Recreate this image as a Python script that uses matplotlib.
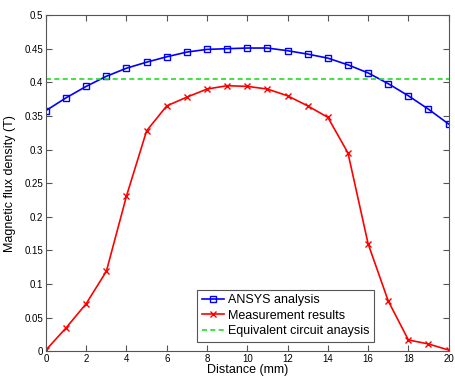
import matplotlib
matplotlib.use("Agg")
import matplotlib.pyplot as plt
import numpy as np

plt.rcParams['font.family'] = ['Liberation Sans', 'DejaVu Sans']

# data
distance = np.arange(0, 21)
ansys = [0.358, 0.377, 0.394, 0.409, 0.421, 0.430, 0.438, 0.445, 0.449, 0.450,
         0.451, 0.451, 0.447, 0.442, 0.436, 0.426, 0.414, 0.398, 0.380, 0.360, 0.338]
measured = [0.002, 0.035, 0.071, 0.119, 0.231, 0.328, 0.365, 0.378, 0.390, 0.395,
            0.394, 0.390, 0.380, 0.365, 0.348, 0.295, 0.160, 0.075, 0.017, 0.011, 0.002]
equivalent = 0.405

xticks = np.arange(0, 21, 2)
yticks = np.arange(0, 0.51, 0.05)
ytick_labels = ["0", "0.05", "0.1", "0.15", "0.2", "0.25", "0.3", "0.35", "0.4", "0.45", "0.5"]

fig = plt.figure(figsize=(4.55, 3.77), dpi=100)
ax = fig.add_axes([0.101, 0.068, 0.885, 0.892])

ax.plot(distance, ansys, color="blue", marker="s", markersize=5, markerfacecolor="none",
        markeredgewidth=1.0, linewidth=1.2, label="ANSYS analysis")
ax.plot(distance, measured, color="red", marker="x", markersize=5, markeredgewidth=1.0,
        linewidth=1.2, label="Measurement results")
ax.axhline(equivalent, color="#22dd22", linestyle="--", linewidth=1.2, dashes=(3, 2),
           label="Equivalent circuit anaysis")

ax.set_xlim(0, 20)
ax.set_ylim(0, 0.5)
ax.set_xticks(xticks)
ax.set_yticks(yticks)
ax.set_yticklabels(ytick_labels)
ax.tick_params(direction="in", top=True, right=True, labelsize=7, length=4, color="#555555", pad=2)
for s in ax.spines.values():
    s.set_color("#555555")
    s.set_linewidth(0.8)

ax.set_xlabel("Distance (mm)", fontsize=9, labelpad=0)
ax.set_ylabel("Magnetic flux density (T)", fontsize=9, labelpad=6)

leg = ax.legend(loc="lower right", fontsize=9, fancybox=False, framealpha=1,
                edgecolor="#555555", borderpad=0.35, labelspacing=0.3, handlelength=1.8,
                handletextpad=0.3, bbox_to_anchor=(0.83, 0.01))
leg.get_frame().set_linewidth(0.8)

fig.savefig("out.png", dpi=100)
